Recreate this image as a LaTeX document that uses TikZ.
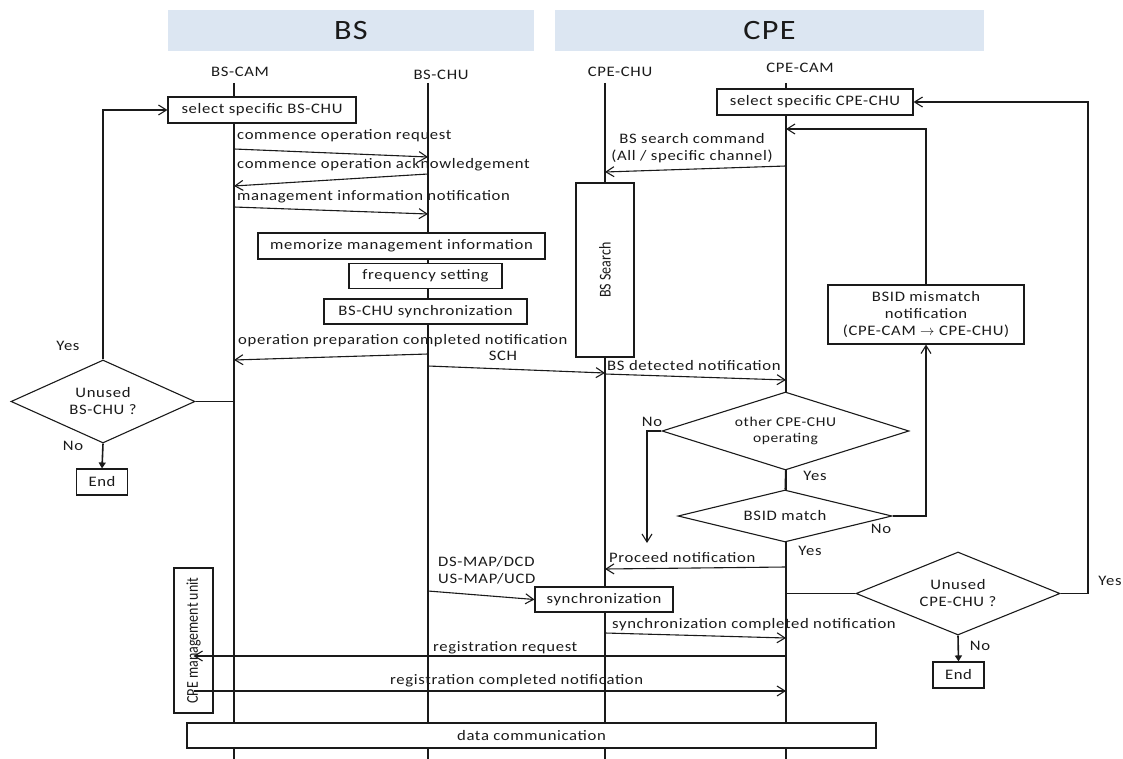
\documentclass[tikz,border=0pt]{standalone}
\usepackage{fontspec}
\usepackage{graphicx}
\setmainfont{Carlito}[FakeStretch=1.15, LetterSpace=4.5]
\newfontfamily\plainfont{Carlito}
\usetikzlibrary{arrows.meta,shapes.geometric}
\definecolor{band}{HTML}{DCE6F2}
\definecolor{ink}{HTML}{1A1A1A}
\newcommand{\tallrot}[1]{\scalebox{1}[1.18]{#1}}

\begin{document}
\begin{tikzpicture}[x=1pt,y=-1pt,
  every node/.style={font=\fontsize{14.5}{17}\selectfont, text=ink, inner sep=0pt},
  line/.style={draw=ink, line width=1.1pt},
  msg/.style={line, -{Straight Barb[length=8pt,width=10pt]}},
  stopline/.style={draw=ink, line width=1.6pt, -{Triangle[length=6pt,width=7pt]}},
  proc/.style={draw=ink, line width=1.1pt, fill=white, align=center},
  vproc/.style={proc, rotate=90, font=\plainfont\fontsize{14}{17}\selectfont},
  decision/.style={diamond, draw=ink, line width=1.1pt, fill=white, align=center, inner sep=0pt},
  header/.style={fill=band, font=\fontsize{28}{32}\selectfont},
  lbl/.style={anchor=base west},
  clbl/.style={anchor=base}
]
\useasboundingbox (0,0) rectangle (1123,759);

% ---------- headers ----------
\node[header, minimum width=366pt, minimum height=41pt] (bsband) at (351,30.5) {BS};
\node[header, minimum width=429pt, minimum height=41pt] (cpeband) at (769.5,30.5) {CPE};

% ---------- lifelines ----------
\node (lcam)  at (240,72) {BS-CAM};
\node (lchu)  at (441,75) {BS-CHU};
\node (lcchu) at (620,72) {CPE-CHU};
\node (lccam) at (800,68) {CPE-CAM};
\coordinate (camT)  at (234,83);  \coordinate (camB)  at (234,759);
\coordinate (chuT)  at (428,83);  \coordinate (chuB)  at (428,759);
\coordinate (cchuT) at (605,83);  \coordinate (cchuB) at (605,759);
\coordinate (ccamT) at (786,83);  \coordinate (ccamB) at (786,759);
\draw[line] (camT) -- (camB);
\draw[line] (chuT) -- (chuB);
\draw[line] (cchuT) -- (cchuB);
\draw[line] (ccamT) -- (ccamB);

% ---------- process boxes ----------
\node[proc, minimum width=188pt, minimum height=26pt] (selbs) at (262,110) {select specific BS-CHU};
\node[proc, minimum width=287pt, minimum height=26pt] (memo) at (401.5,246) {memorize management information};
\node[proc, minimum width=153pt, minimum height=25pt] (freq) at (425.5,276) {frequency setting};
\node[proc, minimum width=203pt, minimum height=25pt] (bssync) at (425.5,311.5) {BS-CHU synchronization};
\node[vproc, minimum width=174pt, minimum height=58pt] (search) at (605,270) {\tallrot{BS Search}};
\node[proc, minimum width=196pt, minimum height=26pt] (selcpe) at (815,102) {select specific CPE-CHU};
\node[proc, minimum width=196pt, minimum height=59pt] (mis) at (926,314.5) {BSID mismatch\\notification\\(CPE-CAM $\rightarrow$ CPE-CHU)};
\node[proc, minimum width=138pt, minimum height=25pt] (sync) at (604,599.5) {synchronization};
\node[vproc, minimum width=145pt, minimum height=39pt] (mgmt) at (193.5,640.5) {\tallrot{CPE management unit}};
\node[proc, minimum width=689pt, minimum height=25pt] (data) at (531.5,735.5) {data communication};
\node[proc, minimum width=51pt, minimum height=26pt] (endL) at (102,482) {End};
\node[proc, minimum width=51pt, minimum height=26pt] (endR) at (958.5,675) {End};

% ---------- decisions ----------
\node[decision, aspect=2.22, minimum width=184pt, minimum height=83pt] (ubs) at (103,401.5) {Unused\\BS-CHU ?};
\node[decision, aspect=3.17, minimum width=247pt, minimum height=78pt, font=\fontsize{13.5}{16}\selectfont] (other) at (785.5,431) {other CPE-CHU\\operating};
\node[decision, aspect=4.1, minimum width=214pt, minimum height=52pt] (bsid) at (785,516) {BSID match};
\node[decision, aspect=2.46, minimum width=204pt, minimum height=83pt] (ucpe) at (958,593.5) {Unused\\CPE-CHU ?};

% ---------- BS side messages ----------
\coordinate (m1s) at (234,149); \coordinate (m1e) at (428,157);
\draw[msg] (m1s) -- (m1e);
\node[lbl] at (237,140) {commence operation request};

\coordinate (m2s) at (428,174); \coordinate (m2e) at (234,186);
\draw[msg] (m2s) -- (m2e);
\node[lbl] at (237,169) {commence operation acknowledgement};

\coordinate (m3s) at (234,207); \coordinate (m3e) at (428,214);
\draw[msg] (m3s) -- (m3e);
\node[lbl] at (237,201) {management information notification};

\coordinate (m4s) at (428,354); \coordinate (m4e) at (234,360);
\draw[msg] (m4s) -- (m4e);
\node[lbl] at (238,344) {operation preparation completed notification};

\coordinate (m5s) at (428,366); \coordinate (m5e) at (605,373);
\draw[msg] (m5s) -- (m5e);
\node[clbl] at (503,360) {SCH};

% ---------- CPE side messages ----------
\coordinate (m6s) at (786,166); \coordinate (m6e) at (605,172);
\draw[msg] (m6s) -- (m6e);
\node[align=center] at (692,148) {BS search command\\(All / specific channel)};

\coordinate (m7s) at (605,374); \coordinate (m7e) at (786,380);
\draw[msg] (m7s) -- (m7e);
\node[lbl] at (607,370) {BS detected notification};

\coordinate (m8s) at (786,567); \coordinate (m8e) at (605,569);
\draw[msg] (m8s) -- (m8e);
\node[lbl] at (609,562) {Proceed notification};

\coordinate (m9s) at (428,591);
\draw[msg] (m9s) -- (sync.west);
\node[lbl, align=left, anchor=south west] at (438,584) {DS-MAP/DCD\\US-MAP/UCD};

\coordinate (m10s) at (605,633); \coordinate (m10e) at (786,638);
\draw[msg] (m10s) -- (m10e);
\node[lbl] at (612,628) {synchronization completed notification};

\coordinate (m11s) at (786,656);
\draw[msg] (m11s) -- (m11s -| mgmt.east);
\node[lbl] at (433,651) {registration request};

\coordinate (m12e) at (786,691);
\draw[msg] (mgmt.east |- m12e) -- (m12e);
\node[lbl] at (390,684) {registration completed notification};

% ---------- BS decision loop ----------
\coordinate (ubsL) at (234,401.5);
\draw[line] (ubs.east) -- (ubsL);
\draw[msg] (ubs.north) |- (selbs.west);
\draw[stopline] (ubs.south) -- (endL.north);
\node at (68,346) {Yes};
\node at (73,446) {No};

% ---------- CPE decision flow ----------
\coordinate (noEnd) at (647,543);
\draw[msg] (other.west) -| (noEnd);
\node at (652,422) {No};
\draw[line] (other.south) -- (bsid.north);
\node at (815,476) {Yes};
\draw[msg] (bsid.east) -| (mis.south);
\node at (881,529) {No};
\node at (810,551) {Yes};
\coordinate (loopIn) at (786,129);
\draw[msg] (mis.north) |- (loopIn);

\coordinate (ucpeL) at (786,593.5);
\draw[line] (ucpeL) -- (ucpe.west);
\coordinate (rLoop) at (1088,593.5);
\draw[msg] (ucpe.east) -- (rLoop) |- (selcpe.east);
\node at (1110,581) {Yes};
\draw[stopline] (ucpe.south) -- (endR.north);
\node at (980,646) {No};
\end{tikzpicture}
\end{document}
